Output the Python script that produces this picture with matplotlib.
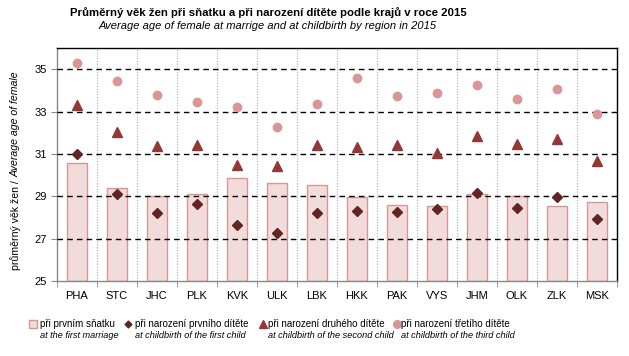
import matplotlib
matplotlib.use("Agg")
import matplotlib.pyplot as plt
import numpy as np
from matplotlib.lines import Line2D

plt.rcParams['font.family'] = ['Liberation Sans', 'DejaVu Sans']

regions = ["PHA", "STC", "JHC", "PLK", "KVK", "ULK", "LBK", "HKK", "PAK", "VYS", "JHM", "OLK", "ZLK", "MSK"]
marriage = [30.56, 29.38, 29.00, 29.09, 29.85, 29.61, 29.52, 28.95, 28.57, 28.53, 29.09, 29.03, 28.53, 28.72]
first_child = [31.01, 29.09, 28.23, 28.62, 27.66, 27.28, 28.23, 28.32, 28.27, 28.39, 29.14, 28.43, 28.95, 27.94]
second_child = [33.31, 32.05, 31.39, 31.44, 30.48, 30.45, 31.42, 31.34, 31.42, 31.05, 31.85, 31.47, 31.72, 30.67]
third_child = [35.28, 34.42, 33.76, 33.47, 33.20, 32.26, 33.35, 34.57, 33.72, 33.87, 34.24, 33.61, 34.05, 32.87]
yticks = [25, 27, 29, 31, 33, 35]

legend_cz = ["při prvním sňatku", "při narození prvního dítěte", "při narození druhého dítěte", "při narození třetího dítěte"]
legend_en = ["at the first marriage", "at childbirth of the first child", "at childbirth of the second child", "at childbirth of the third child"]

bar_face = "#f2dcdb"
bar_edge = "#d99694"
c_first = "#632523"
c_second = "#953735"
c_third = "#d99694"

W, H = 629, 356
fig = plt.figure(figsize=(W / 100, H / 100), dpi=100)
ax = fig.add_axes([57 / W, 1 - 281 / H, (617 - 57) / W, (281 - 48) / H])

x = np.arange(len(regions))
ax.bar(x, np.array(marriage) - 25, bottom=25, width=0.5, color=bar_face, edgecolor=bar_edge, linewidth=1.0, zorder=2)
ax.plot(x, first_child, linestyle='none', marker='D', markersize=5.5, color=c_first, zorder=4)
ax.plot(x, second_child, linestyle='none', marker='^', markersize=7.5, color=c_second, zorder=4)
ax.plot(x, third_child, linestyle='none', marker='o', markersize=6, color=c_third, zorder=4)

ax.set_xlim(-0.5, len(regions) - 0.5)
ax.set_ylim(25, 36)
ax.set_yticks(yticks)
ax.set_yticklabels([str(v) for v in yticks], fontsize=8)
for v in yticks[1:]:
    ax.axhline(v, color='black', linestyle=(0, (4, 3)), linewidth=1.0, zorder=3)
for b in np.arange(0.5, len(regions) - 0.5, 1):
    ax.axvline(b, color='#aaaaaa', linestyle=(0, (1, 1.5)), linewidth=0.8, zorder=1)

ax.set_xticks(x)
ax.set_xticklabels(regions, fontsize=8)
ax.set_xticks(np.arange(-0.5, len(regions), 1), minor=True)
ax.tick_params(axis='x', which='major', length=0, pad=7)
ax.tick_params(axis='x', which='minor', length=4, color='#888888', direction='out')
ax.tick_params(axis='y', length=4, color='#888888', direction='out', pad=3)

ax.spines['left'].set_color('#888888')
ax.spines['bottom'].set_color('#888888')
ax.spines['top'].set_color('black')
ax.spines['right'].set_color('black')
for s in ax.spines.values():
    s.set_linewidth(1.0)

# y label: regular + italic part
t1 = fig.text(16 / W, 1 - 270 / H, "průměrný věk žen / ", rotation=90, ha='center', va='bottom', fontsize=7.6)
ax.annotate("Average age of female", xy=(0.5, 1.0), xycoords=t1, rotation=90, ha='center', va='bottom',
            fontsize=7.6, style='italic', annotation_clip=False)

# titles
fig.text(268 / W, 1 - 16 / H, "Průměrný věk žen při sňatku a při narození dítěte podle krajů v roce 2015",
         ha='center', va='baseline', fontsize=8.2, fontweight='bold')
fig.text(268 / W, 1 - 29 / H, "Average age of female at marrige and at childbirth by region in 2015",
         ha='center', va='baseline', fontsize=8, style='italic')

# legend
mx = [33, 128, 263, 397]
tx = [40, 135, 268, 401]
handles = [('s', bar_face, bar_edge, 5.5), ('D', c_first, c_first, 3.5), ('^', c_second, c_second, 5.5), ('o', c_third, c_third, 5.5)]
for i in range(4):
    m, fc, ec, ms = handles[i]
    fig.add_artist(Line2D([mx[i] / W], [1 - 324 / H], marker=m, markersize=ms, markerfacecolor=fc,
                          markeredgecolor=ec, linestyle='none', transform=fig.transFigure))
    fig.text(tx[i] / W, 1 - 324 / H, legend_cz[i], ha='left', va='center', fontsize=7)
    fig.text(tx[i] / W, 1 - 336 / H, legend_en[i], ha='left', va='center', fontsize=6.6, style='italic')

fig.savefig("out.png", dpi=100)
